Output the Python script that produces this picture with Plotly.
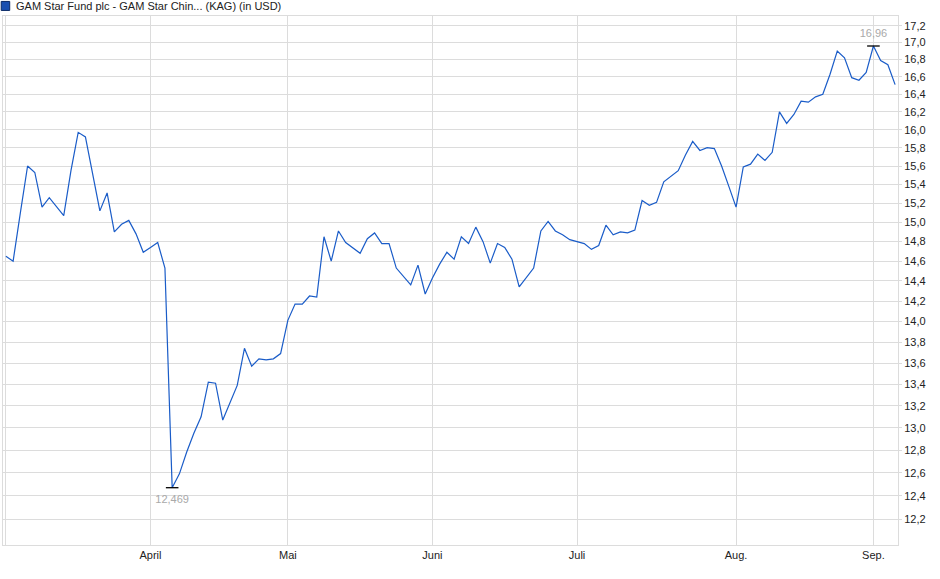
import pandas as pd
import plotly.graph_objects as go

# Handelstage (Wochentage ohne Feiertage des Fonds)
start_date = "2025-03-03"
end_date = "2025-09-04"
holidays = ["2025-03-17", "2025-04-04", "2025-04-18", "2025-04-21", "2025-05-01",
            "2025-05-05", "2025-06-02", "2025-07-01", "2025-08-04", "2025-08-25"]

prices = [
    14.65, 14.60, 15.10, 15.60, 15.53, 15.16, 15.26, 15.16, 15.07, 15.55,
    15.97, 15.92, 15.52, 15.12, 15.31, 14.90, 14.98, 15.02, 14.88, 14.69,
    14.74, 14.79, 14.53, 12.469, 12.59, 12.78, 12.95, 13.10, 13.42, 13.41,
    13.07, 13.23, 13.39, 13.74, 13.57, 13.64, 13.63, 13.64, 13.69, 14.01,
    14.17, 14.17, 14.25, 14.24, 14.85, 14.60, 14.91, 14.79, 14.73, 14.68,
    14.83, 14.89, 14.78, 14.78, 14.53, 14.45, 14.36, 14.56, 14.27, 14.43,
    14.57, 14.69, 14.62, 14.85, 14.78, 14.95, 14.80, 14.58, 14.78, 14.74,
    14.62, 14.34, 14.43, 14.53, 14.91, 15.01, 14.91, 14.87, 14.82, 14.80,
    14.78, 14.72, 14.76, 14.97, 14.87, 14.90, 14.89, 14.92, 15.23, 15.18,
    15.21, 15.43, 15.49, 15.55, 15.72, 15.87, 15.77, 15.80, 15.79, 15.60,
    15.38, 15.16, 15.59, 15.62, 15.73, 15.66, 15.75, 16.20, 16.07, 16.17,
    16.32, 16.31, 16.37, 16.40, 16.63, 16.90, 16.82, 16.59, 16.56, 16.65,
    16.96, 16.79, 16.74, 16.51,
]

month_labels = ["April", "Mai", "Juni", "Juli", "Aug.", "Sep."]
y_ticks = [12.2, 12.4, 12.6, 12.8, 13.0, 13.2, 13.4, 13.6, 13.8, 14.0, 14.2,
           14.4, 14.6, 14.8, 15.0, 15.2, 15.4, 15.6, 15.8, 16.0, 16.2, 16.4,
           16.6, 16.8, 17.0, 17.2]

days = pd.bdate_range(start_date, end_date)
days = days[~days.isin(pd.to_datetime(holidays))]
dates = [d.strftime("%Y-%m-%d") for d in days]

# erster Handelstag je Monat (ab April) als Achsenmarke
firsts = pd.Series(days).groupby(days.to_period("M")).min()
tick_dates = [d.strftime("%Y-%m-%d") for d in firsts.iloc[1:]]

i_min = prices.index(min(prices))
i_max = prices.index(max(prices))

GRID = "#dcdcdc"
BLUE = "#1a5cc8"

fig = go.Figure()
fig.add_trace(go.Scatter(
    x=dates, y=prices, mode="lines",
    line=dict(color=BLUE, width=1.2), hoverinfo="x+y", showlegend=False,
))
fig.add_trace(go.Scatter(
    x=[dates[i_min], dates[i_max]], y=[prices[i_min], prices[i_max]],
    mode="markers+text",
    marker=dict(symbol="line-ew", size=9, line=dict(color="black", width=1.3)),
    text=["12,469", "16,96"], textposition=["bottom center", "top center"],
    textfont=dict(color="#a9a9a9", size=11, family="Liberation Sans, Arial"),
    showlegend=False, hoverinfo="skip", cliponaxis=False,
))

fig.update_layout(
    width=940, height=579,
    margin=dict(l=3, r=42, t=16, b=34),
    paper_bgcolor="white", plot_bgcolor="white",
    font=dict(family="Liberation Sans, Arial", size=11, color="#222"),
    xaxis=dict(
        type="category", range=[-0.4, len(dates) - 1 + 0.4],
        tickvals=[dates[0]] + tick_dates, ticktext=[""] + month_labels,
        showgrid=True, gridcolor=GRID, gridwidth=1,
        showline=True, linecolor=GRID, mirror=True,
        ticks="", tickfont=dict(size=11, color="#222"),
        zeroline=False,
    ),
    yaxis=dict(
        type="log", side="right",
        range=[1.0785, 1.2385],
        tickvals=y_ticks,
        ticktext=[f"{v:.1f}".replace(".", ",") for v in y_ticks],
        showgrid=True, gridcolor=GRID, gridwidth=1,
        showline=True, linecolor=GRID, mirror=True,
        ticks="outside", ticklen=3, tickcolor=GRID,
        tickfont=dict(size=11, color="#222"),
        zeroline=False,
    ),
)

# Legendenkopf oben links
fig.add_shape(type="rect", xref="paper", yref="paper",
              x0=-0.002, x1=0.0075, y0=1.0105, y1=1.0275,
              fillcolor="#1a4fb0", line=dict(color="#0b2a66", width=1))
fig.add_annotation(xref="paper", yref="paper", x=0.0125, y=1.019,
                   xanchor="left", yanchor="middle", showarrow=False,
                   text="GAM Star Fund plc - GAM Star Chin... (KAG) (in USD)",
                   font=dict(size=11, color="#222"))

# Seitenrand des Browsers entfernen, damit die Grafik bei 0,0 beginnt
fig.write_html("out.html", config={"displayModeBar": False},
               post_script="document.body.style.margin='0';")
